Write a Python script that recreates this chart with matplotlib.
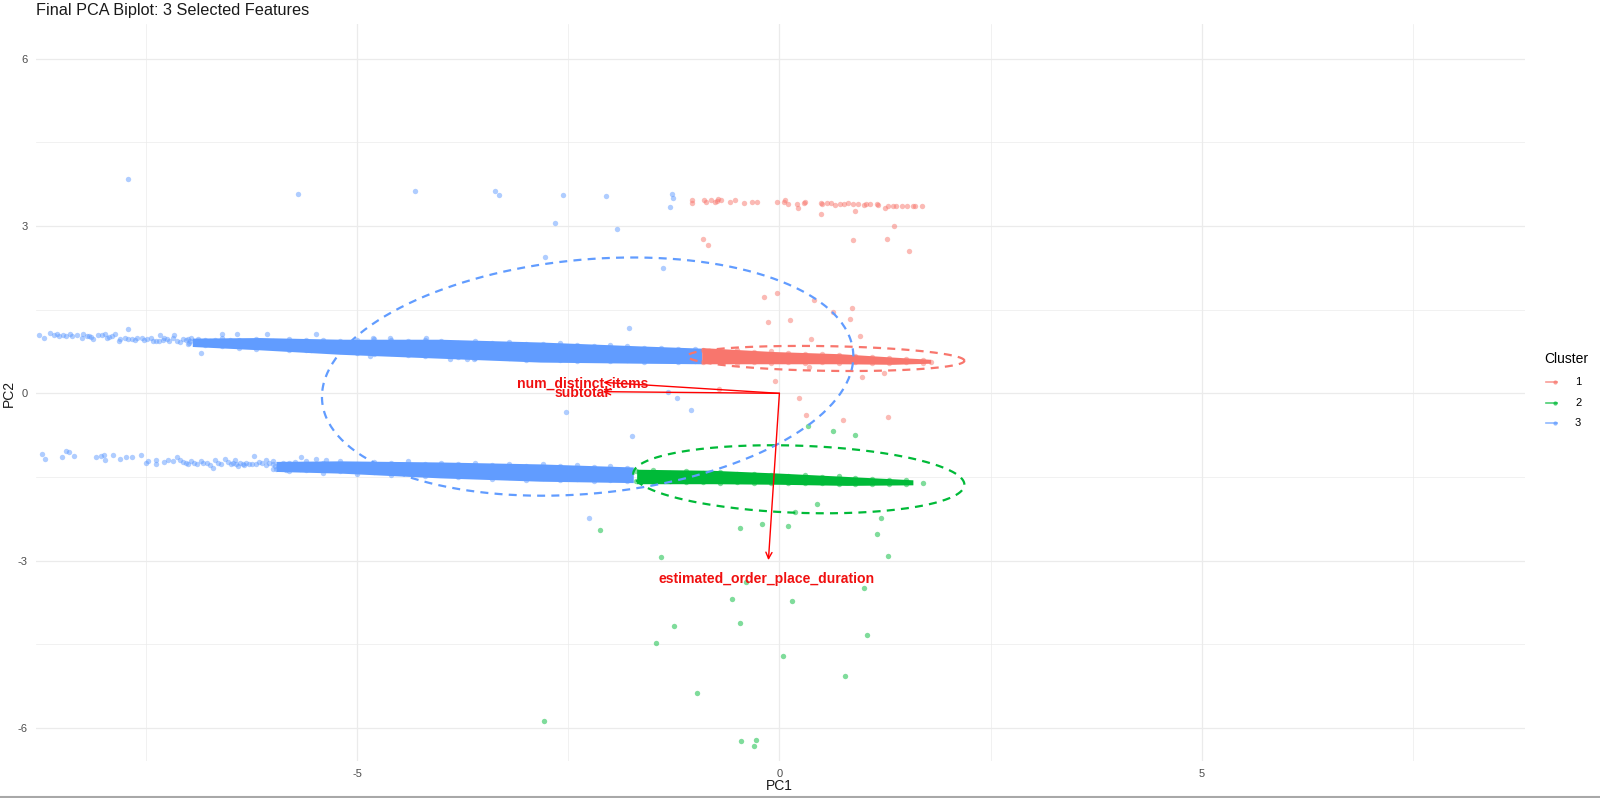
import numpy as np
import matplotlib
matplotlib.use("Agg")
import matplotlib.pyplot as plt
from matplotlib.lines import Line2D

plt.rcParams['font.family'] = ['Liberation Sans', 'DejaVu Sans']
plt.rcParams['axes.unicode_minus'] = False

#colours of the clusters
cluster_names = ["1", "2", "3"]
cluster_colors = ["#F8766D", "#00BA38", "#619CFF"]

#stray points
red_x = [-1.03, -1.03, -0.89, -0.87, -0.81, -0.76, -0.74, -0.73, -0.69, -0.59, -0.53, -0.42, -0.33, -0.27, -0.03, 0.05,
         0.07, 0.10, 0.21, 0.22, 0.29, 0.30, 0.49, 0.51, 0.56, 0.61, 0.66, 0.72, 0.76, 0.81, 0.87, 0.93, 1.00, 1.03,
         1.07, 1.15, 1.17, 1.25, 1.29, 1.35, 1.38, 1.45, 1.51, 1.58, 1.61, 1.69,
         0.49, 0.90, 1.36, 0.87, 1.27, 1.53, -0.90, -0.85,
         -0.18, -0.03, 0.41, 0.64, 0.86, 0.84, -0.14, 0.12, 0.37, 0.95, -0.05, 0.35, 0.98, 1.24, 0.23, -0.72,
         0.31, 0.75, 1.29, 1.79]
red_y = [3.47, 3.41, 3.47, 3.43, 3.47, 3.43, 3.45, 3.49, 3.47, 3.43, 3.47, 3.41, 3.43, 3.43, 3.43, 3.43,
         3.47, 3.40, 3.40, 3.32, 3.41, 3.43, 3.42, 3.40, 3.42, 3.42, 3.37, 3.39, 3.40, 3.42, 3.40, 3.40, 3.38, 3.39,
         3.39, 3.39, 3.37, 3.33, 3.36, 3.36, 3.36, 3.36, 3.36, 3.36, 3.36, 3.36,
         3.21, 3.26, 3.00, 2.74, 2.77, 2.56, 2.77, 2.65,
         1.73, 1.79, 1.67, 1.45, 1.53, 1.33, 1.27, 1.31, 0.98, 1.03, 0.23, 0.47, 0.29, 0.37, -0.08, 0.08,
         -0.39, -0.47, -0.42, 0.56]

green_x = [0.34, 0.63, 0.90, -2.12, -1.40, -0.47, -0.21, 0.10, 0.19, 0.44, 1.20, 1.15, 1.28, -0.39, -0.56, 0.15, 1.00,
           -1.25, -1.46, -0.47, 1.04, 0.04, 0.78, -0.97, -2.79, -0.46, -0.28, -0.30, 1.70]
green_y = [-0.59, -0.67, -0.74, -2.45, -2.94, -2.41, -2.34, -2.37, -2.12, -1.98, -2.23, -2.53, -2.92, -3.38, -3.68,
           -3.72, -3.49, -4.17, -4.47, -4.12, -4.34, -4.71, -5.07, -5.37, -5.88, -6.24, -6.21, -6.32, -1.61]

blue_top_x = [-7.71, -5.70, -4.31, -3.37, -3.32, -2.56, -2.05, -2.66, -1.92, -2.78, -1.27, -1.26, -1.29, -1.38, -1.78,
              -1.32, -1.21, -2.53, -1.05, -1.74, -2.25]
blue_top_y = [3.84, 3.57, 3.63, 3.62, 3.55, 3.55, 3.54, 3.05, 2.94, 2.44, 3.57, 3.50, 3.34, 2.25, 1.17,
              0.02, -0.09, -0.33, -0.29, -0.76, -2.23]

#left ends of the two blue strips, still single dots there
blue_up_x = [-8.76, -8.70, -8.63, -8.59, -8.53, -8.48, -8.37, -8.31, -8.26, -8.24, -8.17, -8.12, -8.07, -7.98, -7.94,
             -7.86, -7.82, -7.71, -7.71, -7.63, -7.55, -7.49, -7.41, -7.33, -7.34, -7.25, -7.17, -7.13, -7.06, -6.99,
             -6.96, -6.90, -6.85, -6.82, -6.74, -6.66, -6.60, -6.54, -6.42, -6.07, -5.48, -5.54,
             -4.18, -4.81, -4.61, -4.85, -3.70, -3.62, -3.90,
             -8.55, -8.45, -8.40, -8.20, -8.15, -8.02, -7.96, -7.90, -7.80, -7.75, -7.66, -7.60, -7.52, -7.44, -7.38,
             -7.30, -7.28, -7.22, -7.18, -7.10, -7.02, -6.98, -6.92, -6.88, -6.80, -6.72, -6.68, -6.58, -6.50, -6.46,
             -6.38]
blue_up_y = [1.05, 1.00, 1.09, 1.04, 1.03, 1.05, 1.03, 1.05, 1.00, 1.07, 1.03, 0.97, 1.04, 1.07, 1.01,
             1.07, 0.94, 1.15, 0.97, 0.95, 1.00, 0.97, 0.93, 1.05, 0.93, 0.97, 1.05, 0.94, 0.97, 0.91,
             0.99, 0.93, 0.73, 0.90, 0.93, 0.91, 1.07, 0.93, 1.07, 1.07, 1.07, 0.78,
             1.00, 1.00, 1.00, 0.67, 0.62, 0.62, 0.62,
             1.06, 1.02, 1.06, 1.02, 1.01, 1.04, 0.99, 1.03, 0.98, 1.00, 0.97, 0.99, 0.95, 0.99, 0.93,
             0.95, 1.00, 0.93, 0.99, 0.92, 0.95, 0.93, 0.90, 0.97, 0.94, 0.90, 0.95, 0.93, 0.96, 0.90,
             0.93]
blue_low_x = [-8.73, -8.69, -8.49, -8.45, -8.41, -8.35, -8.09, -8.03, -7.99, -7.98, -7.89, -7.81, -7.74, -7.66, -7.56,
              -7.50, -7.47, -7.38, -7.38, -7.29, -7.24, -7.18, -7.13, -7.06, -7.00, -6.93, -6.85, -6.77, -6.70, -6.68,
              -6.61, -6.56, -6.49, -6.45, -6.41, -6.35, -6.22, -6.24, -6.16, -6.08, -6.08, -6.00, -5.92, -5.84, -5.74,
              -5.66, -5.68, -5.49, -5.37,
              -7.10, -7.03, -6.96, -6.90, -6.82, -6.74, -6.64, -6.53, -6.47, -6.43, -6.38, -6.34, -6.31, -6.28, -6.19,
              -6.12, -6.04, -5.97, -5.96, -5.90, -5.88, -5.80, -5.78]
blue_low_y = [-1.09, -1.17, -1.14, -1.03, -1.06, -1.13, -1.15, -1.12, -1.11, -1.20, -1.11, -1.18, -1.14, -1.15, -1.11,
              -1.24, -1.21, -1.20, -1.27, -1.23, -1.20, -1.21, -1.15, -1.23, -1.26, -1.24, -1.21, -1.24, -1.34, -1.20,
              -1.27, -1.18, -1.27, -1.20, -1.30, -1.26, -1.12, -1.26, -1.23, -1.20, -1.29, -1.26, -1.29, -1.37, -1.23,
              -1.15, -1.35, -1.17, -1.20,
              -1.20, -1.25, -1.22, -1.27, -1.24, -1.28, -1.25, -1.23, -1.24, -1.26, -1.24, -1.28, -1.25, -1.27, -1.26,
              -1.24, -1.24, -1.30, -1.36, -1.33, -1.25, -1.30, -1.36]

#solid parts of the strips: too many dots to tell apart, so upper and lower edge
band_up_blue_x = [-6.95, -6.15, -5.20, -4.02, -2.83, -1.65, -0.92]
band_up_blue_top = [0.99, 1.00, 0.97, 0.97, 0.92, 0.85, 0.81]
band_up_blue_bot = [0.84, 0.78, 0.70, 0.63, 0.56, 0.54, 0.53]

band_low_blue_x = [-5.96, -5.20, -4.02, -2.83, -1.73]
band_low_blue_top = [-1.22, -1.21, -1.23, -1.265, -1.32]
band_low_blue_bot = [-1.40, -1.43, -1.515, -1.575, -1.60]

band_red_x = [-0.92, -0.08, 0.72, 1.34, 1.79]
band_red_top = [0.82, 0.75, 0.71, 0.65, 0.61]
band_red_bot = [0.53, 0.53, 0.53, 0.52, 0.54]

band_green_x = [-1.69, -0.79, 0.00, 0.80, 1.58]
band_green_top = [-1.36, -1.38, -1.43, -1.49, -1.55]
band_green_bot = [-1.62, -1.62, -1.63, -1.65, -1.64]

#dots along the edges of the solid parts, they make the rim bumpy
up_edge_x = [-7.0, -6.8, -6.6, -6.4, -6.2, -6.0, -5.8, -5.6, -5.4, -5.2, -5.0, -4.8, -4.6, -4.4, -4.2, -4.0,
             -3.8, -3.6, -3.4, -3.2, -3.0, -2.8, -2.6, -2.4, -2.2, -2.0, -1.8, -1.6, -1.4, -1.2, -1.0]
up_edge_top = [0.97, 0.95, 0.99, 0.96, 0.98, 0.94, 0.97, 0.95, 0.96, 0.93, 0.96, 0.97, 0.95, 0.93, 0.96, 0.93,
               0.91, 0.93, 0.90, 0.92, 0.89, 0.88, 0.90, 0.87, 0.85, 0.86, 0.84, 0.82, 0.81, 0.79, 0.79]
up_edge_bot = [0.88, 0.86, 0.84, 0.82, 0.80, 0.83, 0.78, 0.77, 0.79, 0.75, 0.72, 0.70, 0.73, 0.69, 0.67, 0.70,
               0.66, 0.64, 0.67, 0.63, 0.60, 0.63, 0.60, 0.58, 0.61, 0.58, 0.60, 0.57, 0.59, 0.57, 0.58]

low_edge_x = [-6.0, -5.8, -5.6, -5.4, -5.2, -5.0, -4.8, -4.6, -4.4, -4.2, -4.0,
              -3.8, -3.6, -3.4, -3.2, -3.0, -2.8, -2.6, -2.4, -2.2, -2.0, -1.8]
low_edge_top = [-1.22, -1.25, -1.21, -1.24, -1.22, -1.26, -1.23, -1.25, -1.22, -1.26, -1.24,
                -1.27, -1.25, -1.28, -1.26, -1.30, -1.27, -1.31, -1.29, -1.32, -1.31, -1.34]
low_edge_bot = [-1.36, -1.40, -1.38, -1.42, -1.39, -1.44, -1.41, -1.46, -1.43, -1.48, -1.45,
                -1.50, -1.47, -1.53, -1.50, -1.55, -1.52, -1.56, -1.54, -1.58, -1.55, -1.58]

red_edge_x = [-0.9, -0.7, -0.5, -0.3, -0.1, 0.1, 0.3, 0.5, 0.7, 0.9, 1.1, 1.3, 1.5, 1.7]
red_edge_top = [0.78, 0.76, 0.77, 0.74, 0.75, 0.72, 0.71, 0.70, 0.69, 0.67, 0.66, 0.63, 0.61, 0.60]
red_edge_bot = [0.56, 0.56, 0.55, 0.56, 0.55, 0.56, 0.55, 0.56, 0.55, 0.56, 0.55, 0.55, 0.56, 0.55]

green_edge_x = [-1.7, -1.5, -1.3, -1.1, -0.9, -0.7, -0.5, -0.3, -0.1, 0.1, 0.3, 0.5, 0.7, 0.9, 1.1, 1.3, 1.5]
green_edge_top = [-1.40, -1.38, -1.42, -1.40, -1.43, -1.41, -1.45, -1.44, -1.46, -1.48, -1.47, -1.50, -1.49, -1.52,
                  -1.53, -1.55, -1.56]
green_edge_bot = [-1.58, -1.59, -1.58, -1.59, -1.59, -1.60, -1.59, -1.60, -1.60, -1.61, -1.61, -1.61, -1.62, -1.62,
                  -1.62, -1.62, -1.62]

#ellipses: centre, half extents, correlation
ell_cx = [0.55, 0.23, -2.27]
ell_cy = [0.625, -1.54, 0.30]
ell_sx = [1.64, 1.96, 3.145]
ell_sy = [0.225, 0.61, 2.135]
ell_r = [-0.18, -0.16, 0.17]

#loading arrows
feat_names = ["num_distinct_items", "subtotal", "estimated_order_place_duration"]
feat_x = [-2.085, -2.09, -0.13]
feat_y = [0.197, 0.03, -2.99]
label_x = [-2.33, -2.335, -0.148]
label_y = [0.167, 0.0, -3.32]

W, H = 1600, 798
fig = plt.figure(figsize=(W / 100, H / 100), dpi=100)
ax = fig.add_axes([36 / W, 1 - 761 / H, (1524.5 - 36) / W, (761 - 24) / H])

for s in ax.spines.values():
    s.set_visible(False)

ax.set_xlim(-8.8, 8.82)
ax.set_ylim(-6.59, 6.62)
ax.set_xticks([-5, 0, 5])
ax.set_xticks([-7.5, -2.5, 2.5, 7.5], minor=True)
ax.set_yticks([-6, -3, 0, 3, 6])
ax.set_yticks([-4.5, -1.5, 1.5, 4.5], minor=True)
ax.grid(which="major", color="#ebebeb", lw=0.9)
ax.grid(which="minor", color="#ebebeb", lw=0.5)
ax.set_axisbelow(True)
ax.tick_params(which="both", length=0)
ax.tick_params(labelsize=8, labelcolor="#4d4d4d", pad=6)

dot = dict(s=15, alpha=0.5, linewidths=0)

ax.scatter(blue_top_x, blue_top_y, color=cluster_colors[2], **dot)
ax.scatter(blue_up_x, blue_up_y, color=cluster_colors[2], **dot)
ax.scatter(blue_low_x, blue_low_y, color=cluster_colors[2], **dot)
ax.scatter(red_x, red_y, color=cluster_colors[0], **dot)
ax.scatter(green_x, green_y, color=cluster_colors[1], **dot)

ax.scatter(up_edge_x, up_edge_top, color=cluster_colors[2], **dot)
ax.scatter(up_edge_x, up_edge_bot, color=cluster_colors[2], **dot)
ax.scatter(low_edge_x, low_edge_top, color=cluster_colors[2], **dot)
ax.scatter(low_edge_x, low_edge_bot, color=cluster_colors[2], **dot)
ax.fill_between(band_up_blue_x, band_up_blue_bot, band_up_blue_top, color=cluster_colors[2], lw=0)
ax.fill_between(band_low_blue_x, band_low_blue_bot, band_low_blue_top, color=cluster_colors[2], lw=0)

ax.scatter(red_edge_x, red_edge_top, color=cluster_colors[0], zorder=3, **dot)
ax.scatter(red_edge_x, red_edge_bot, color=cluster_colors[0], zorder=3, **dot)
ax.scatter(green_edge_x, green_edge_top, color=cluster_colors[1], zorder=3, **dot)
ax.scatter(green_edge_x, green_edge_bot, color=cluster_colors[1], zorder=3, **dot)
ax.fill_between(band_red_x, band_red_bot, band_red_top, color=cluster_colors[0], lw=0, zorder=3)
ax.fill_between(band_green_x, band_green_bot, band_green_top, color=cluster_colors[1], lw=0, zorder=3)

#dashed ellipses
t = np.linspace(0, 2 * np.pi, 300)
for i in range(3):
    ex = ell_cx[i] + ell_sx[i] * np.cos(t)
    ey = ell_cy[i] + ell_sy[i] * np.cos(t - np.arccos(ell_r[i]))
    ax.plot(ex, ey, color=cluster_colors[i], lw=1.6, ls=(0, (3.6, 2.8)), zorder=4)

#arrows and their names
for i in range(3):
    ax.annotate("", xy=(feat_x[i], feat_y[i]), xytext=(0, 0), zorder=5,
                arrowprops=dict(arrowstyle="->,head_length=0.45,head_width=0.22", color="red", lw=1.0,
                                shrinkA=0, shrinkB=0))
    ax.text(label_x[i], label_y[i], feat_names[i], color="#f01010", fontsize=10.1, fontweight="bold",
            ha="center", va="center", zorder=6)

fig.text(779.5 / W, 1 - 786 / H, "PC1", fontsize=10, color="#1a1a1a", ha="center", va="center")
fig.text(9 / W, 1 - 393 / H, "PC2", fontsize=10, color="#1a1a1a", ha="center", va="center", rotation=90)
fig.text(36 / W, 1 - 10 / H, "Final PCA Biplot: 3 Selected Features", fontsize=11.7, color="#1a1a1a",
         ha="left", va="center")

#legend
fig.text(1544 / W, 1 - 359 / H, "Cluster", fontsize=10, color="black", ha="left", va="center")
for i, py in enumerate([382, 403, 423]):
    fig.add_artist(Line2D([1546 / W, 1557 / W], [1 - py / H, 1 - py / H], color=cluster_colors[i], lw=1.2, alpha=0.7))
    fig.add_artist(Line2D([1555 / W], [1 - py / H], color=cluster_colors[i], marker="o", ms=3, mew=0, alpha=0.7))
    fig.text(1575 / W, 1 - py / H, cluster_names[i], fontsize=8, color="black", ha="left", va="center")

#edge of the screenshot at the bottom
fig.add_artist(Line2D([0, 1], [1 - 797 / H, 1 - 797 / H], color="#a8a8a8", lw=1.5))

fig.savefig("out.png", dpi=100)
